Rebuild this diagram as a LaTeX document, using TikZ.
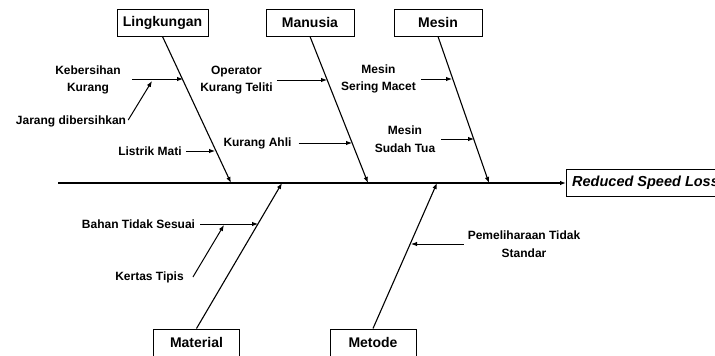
\documentclass[tikz,border=0pt]{standalone}
\usepackage{fontspec}
\setmainfont{Liberation Sans}
\usetikzlibrary{arrows.meta}
\begin{document}
\begin{tikzpicture}[x=1pt,y=-1pt,
  catbox/.style={draw, line width=1pt, minimum width=88pt, minimum height=27pt, inner sep=0pt, font=\fontsize{14}{16}\selectfont\bfseries},
  cause/.style={align=center, inner sep=0pt, font=\fontsize{12}{17.5}\selectfont\bfseries},
  arr/.style={line width=1pt, -{Latex[length=6pt,width=4.5pt]}},
  bone/.style={line width=1.1pt, -{Latex[length=6pt,width=4.5pt]}}]
\useasboundingbox (0,0) rectangle (715,356);
\begin{scope}
\clip (0,0) rectangle (715,356);
% effect
\node[draw, line width=1pt, anchor=north west, minimum width=170pt, minimum height=27pt, inner sep=0pt] (effect) at (566,169) {};
\node[anchor=west, inner sep=0pt, font=\fontsize{14.5}{16}\selectfont\bfseries\itshape] (efftext) at (572,182.5) {Reduced Speed Loss};
% spine
\coordinate (tail) at (58,183);
\draw[bone] (tail) -- (effect.west |- tail);
% category boxes
\node[catbox, minimum width=91pt] (ling) at (162.5,22.5) {Lingkungan};
\node[catbox] (manu) at (310,22.5) {Manusia};
\node[catbox] (mesin) at (438,22.5) {Mesin};
\node[catbox, minimum width=86pt] (mat) at (196.5,342.5) {Material};
\node[catbox, minimum width=86pt] (met) at (373,342.5) {Metode};
% spine points
\coordinate (sl) at (231,183);
\coordinate (sm) at (368,183);
\coordinate (ss) at (489,183);
\coordinate (sa) at (282,183);
\coordinate (st) at (437,183);
\draw[bone] (ling.south) -- (sl);
\draw[bone] (manu.south) -- (sm);
\draw[bone] (mesin.south) -- (ss);
\draw[bone] (mat.north) -- (sa);
\draw[bone] (met.north) -- (st);
% Lingkungan causes
\node[cause] (keb) at (88,80) {Kebersihan\\Kurang};
\node[cause] (jar) at (71,121) {Jarang dibersihkan};
\node[cause] (lis) at (150,151) {Listrik Mati};
\coordinate (kebS) at (132,79);
\coordinate (kebE) at (183,79);
\coordinate (jarE) at (152,81);
\draw[arr] (kebS) -- (kebE);
\draw[arr] (jar.east) ++(2,-1) -- (jarE);
\coordinate (lisE) at (215,151);
\draw[arr] (lis.east) ++(4,0) -- (lisE);
% Manusia causes
\node[cause] (ope) at (236.5,80) {Operator\\Kurang Teliti};
\node[cause] (kah) at (257.5,143) {Kurang Ahli};
\coordinate (opeE) at (327,80);
\coordinate (kahE) at (352,143);
\draw[arr] (ope.east) ++(4,0) -- (opeE);
\draw[arr] (kah.east) ++(7,0) -- (kahE);
% Mesin causes
\node[cause] (msm) at (378.5,79) {Mesin\\Sering Macet};
\node[cause] (mst) at (405,139) {Mesin\\Sudah Tua};
\coordinate (msmE) at (452,79);
\coordinate (mstE) at (474,139);
\draw[arr] (msm.east) ++(5,0) -- (msmE);
\draw[arr] (mst.east) ++(6,0) -- (mstE);
% Material causes
\node[cause] (bah) at (138.5,224) {Bahan Tidak Sesuai};
\node[cause] (ker) at (149.5,277) {Kertas Tipis};
\coordinate (bahE) at (258,224);
\coordinate (kerE) at (224,225);
\draw[arr] (bah.east) ++(5,0) -- (bahE);
\draw[arr] (ker.east) ++(9,0) -- (kerE);
% Metode causes
\node[cause] (pem) at (524,244) {Pemeliharaan Tidak\\Standar};
\coordinate (pemE) at (411,244);
\draw[arr] (pem.west) ++(-4,0) -- (pemE);
\end{scope}
\end{tikzpicture}
\end{document}
